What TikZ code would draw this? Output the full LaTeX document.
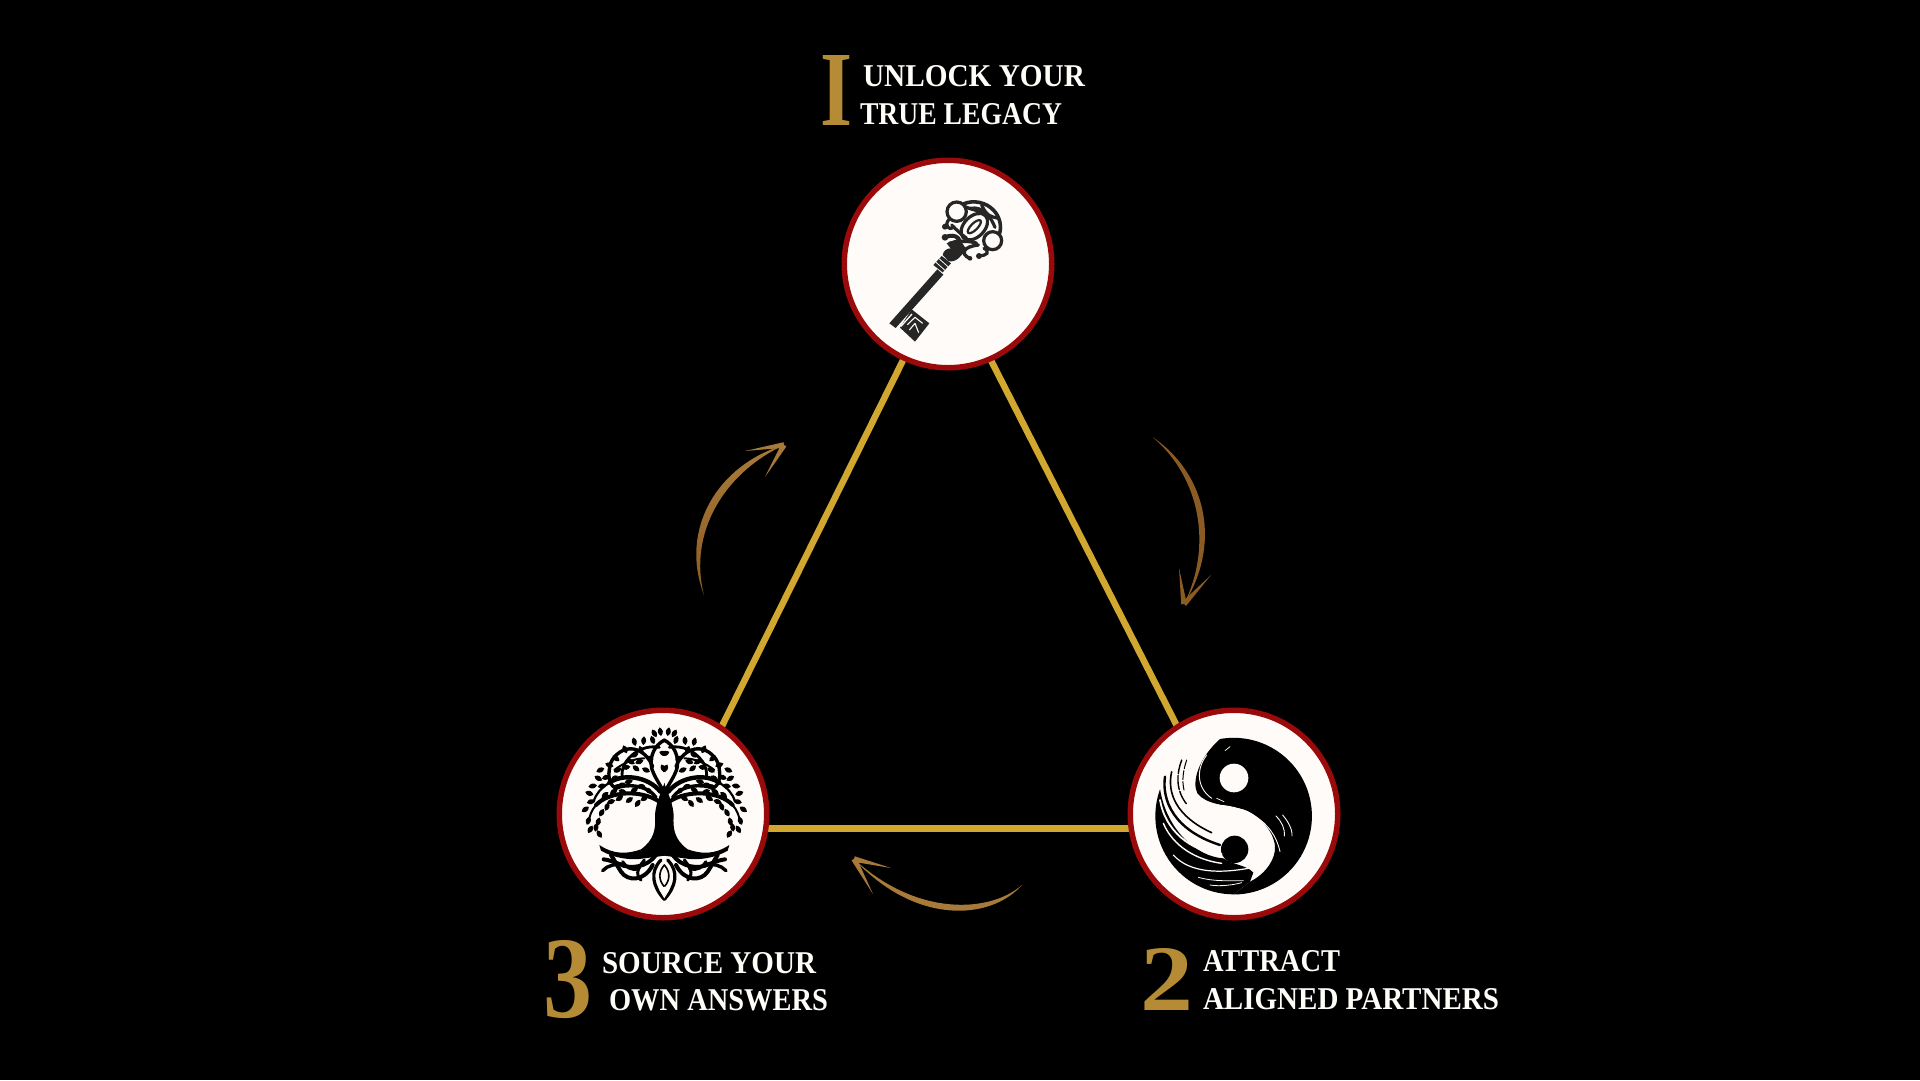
\documentclass[tikz,border=0pt]{standalone}
\usepackage{fontspec}
\usepackage{graphicx}
\usetikzlibrary{calc,backgrounds}
\newfontfamily\labelfont{Liberation Serif Bold}
\newfontfamily\numfont{Liberation Serif Bold}
\definecolor{ringred}{HTML}{9B0A0A}
\definecolor{discfill}{HTML}{FEFBF8}
\definecolor{goldline}{HTML}{D2A730}
\definecolor{numgold}{HTML}{B58B36}
\definecolor{textwhite}{HTML}{FFFDF8}
\definecolor{arrowdark}{HTML}{8A5C24}
\definecolor{arrowlight}{HTML}{CDA46E}
\definecolor{arrowmid}{HTML}{A87A3A}
\definecolor{keyink}{HTML}{262626}
\tikzset{
  disc/.style={circle,draw=ringred,fill=discfill,line width=5.5pt,minimum size=207.5pt,inner sep=0pt,outer sep=0pt},
  edgeline/.style={draw=goldline,line width=6.5pt},
  lbl/.style={inner sep=0pt,outer sep=0pt,anchor=base west,text=textwhite,font=\labelfont},
  numlbl/.style={inner sep=0pt,outer sep=0pt,anchor=base west,text=numgold,font=\numfont},
}
\newcommand{\fitlabel}[3]{\resizebox{#1pt}{#2pt}{#3}}
\newcommand{\barbfill}[3]{\fill[#3] ($(#1)!2.8pt!90:(#2)$) -- (#2) -- ($(#1)!2.8pt!-90:(#2)$) -- cycle;}
\newcommand{\leaflet}[3]{\fill[shift={(#1,#2)},rotate=#3] (-13,0) .. controls (-5,10) and (5,10) .. (13,0) .. controls (5,-10) and (-5,-10) .. (-13,0) -- cycle;}
\begin{document}
\begin{tikzpicture}[x=1pt,y=-1pt]
\useasboundingbox (0,0) rectangle (1920,1080);
\node[disc] (top) at (948,264) {};
\node[disc] (right) at (1234,814) {};
\node[disc] (left) at (663,814) {};
\begin{scope}[on background layer]
\fill[black] (0,0) rectangle (1920,1080);
\draw[edgeline] (top.245.6) -- (left.56.2);
\draw[edgeline] (top.294.4) -- (right.123.8);
\draw[edgeline] (left.-8.7) -- (right.188.7);
\end{scope}

% KEY
\begin{scope}[shift={(800,30)},x=.33333pt,y=-.33333pt]
\fill[keyink] (268,880) -- (412,718) -- (430,734) -- (287,894) -- cycle;
\fill[keyink] (400,705) -- (425,678) -- (453,700) -- (428,727) -- cycle;
\draw[discfill,line width=.8pt] (407,696) -- (435,721) (417,686) -- (445,711);
\fill[keyink] (428,675) .. controls (432,650) and (470,645) .. (480,680) .. controls (470,693) and (452,697) .. (445,693) -- cycle;
\fill[keyink] (300,893) -- (335,838) -- (388,880) -- (345,935) -- cycle;
\draw[discfill,line width=1.3pt] (303,889) -- (336,852);
\draw[discfill,line width=1.1pt] (322,884) -- (345,862) -- (368,880) (345,880) -- (356,908) (328,900) -- (345,880);
\begin{scope}[draw=keyink,line width=3.2pt,line cap=round]
\draw (470,545) circle [radius=29];
\draw (578,632) circle [radius=27];
\draw[rotate around={45:(523,590)}] (523,590) ellipse [x radius=47,y radius=31];
\draw[rotate around={45:(523,590)},line width=2.2pt] (523,590) ellipse [x radius=26,y radius=10];
\draw[line width=3.6pt] (490,522) .. controls (520,508) and (560,518) .. (580,540) .. controls (600,560) and (606,590) .. (598,612);
\draw (510,535) .. controls (550,528) and (572,560) .. (585,592);
\draw (545,525) .. controls (560,560) and (575,560) .. (595,565);
\draw (495,530) .. controls (530,545) and (540,540) .. (555,550);
\draw (447,568) .. controls (432,585) and (445,605) .. (462,590);
\draw[line width=4pt] (435,622) .. controls (465,608) and (495,625) .. (470,665);
\draw[line width=3.4pt] (448,640) .. controls (480,632) and (510,632) .. (530,640);
\draw[line width=3.4pt] (508,685) .. controls (480,670) and (490,650) .. (535,645);
\draw (538,677) .. controls (560,678) and (572,665) .. (552,655);
\draw (455,585) .. controls (470,600) and (480,610) .. (500,625);
\end{scope}
\fill[keyink] (435,590) circle [radius=9] (435,622) circle [radius=10] (537,678) circle [radius=9] (510,685) circle [radius=7];
\fill[keyink] (440,640) -- (478,625) -- (500,660) -- (475,685) -- cycle;
\end{scope}

% TREE
\begin{scope}[shift={(530,690)},x=.33333pt,y=-.33333pt]
\foreach \s in {1,-1}{
\begin{scope}[shift={(403,0)},xscale=\s]
 \fill[black] (-1,278) -- (8,300) .. controls (15,320) and (26,345) .. (28,375) .. controls (25,420) and (32,450) .. (70,478) .. controls (110,492) and (150,495) .. (195,465) -- (190,482) .. controls (150,505) and (100,512) .. (60,505) -- (-1,497) -- cycle;
 \begin{scope}[draw=black,line cap=round]
 \draw[line width=4pt] (15,335) .. controls (70,298) and (165,303) .. (205,345);
 \draw[line width=2pt] (205,345) .. controls (218,360) and (226,380) .. (228,400);
 \draw[line width=4.4pt] (12,305) .. controls (50,258) and (125,250) .. (165,278);
 \draw[line width=2.2pt] (165,278) .. controls (190,295) and (205,310) .. (212,335);
 \draw[line width=3.4pt] (25,322) .. controls (50,285) and (115,280) .. (145,295) .. controls (160,290) and (170,265) .. (165,240);
 \draw[line width=3.4pt] (-1,150) .. controls (30,165) and (45,200) .. (38,235) .. controls (30,260) and (15,280) .. (2,305);
 \draw[line width=3.4pt] (35,230) .. controls (50,190) and (85,170) .. (115,178) .. controls (140,185) and (165,210) .. (165,240);
 \draw[line width=2.8pt] (15,172) .. controls (50,165) and (90,180) .. (115,215) .. controls (125,230) and (130,250) .. (125,265);
 \draw[line width=2pt] (60,205) .. controls (90,205) and (125,220) .. (150,240);
 \draw[line width=4pt] (25,495) .. controls (50,530) and (100,540) .. (135,522) .. controls (155,515) and (165,510) .. (182,508);
 \draw[line width=3.4pt] (125,522) .. controls (145,522) and (170,525) .. (185,542);
 \draw[line width=4pt] (35,525) .. controls (60,575) and (110,575) .. (130,545) .. controls (140,530) and (150,510) .. (160,495);
 \draw[line width=3.2pt] (10,510) .. controls (45,545) and (35,590) .. (0,628);
 \draw[line width=1.6pt] (0,525) .. controls (18,545) and (18,570) .. (0,590);
 \draw[line width=3pt] (60,510) .. controls (85,540) and (85,560) .. (70,570);
 \draw[line width=3pt] (75,535) .. controls (100,545) and (115,530) .. (125,515);
 \end{scope}
 \foreach \px/\py/\a in {12/125/80,35/150/70,62/152/95,90/155/75,118/178/65,145/205/40,165/225/20,192/240/-25,198/265/30,215/288/-10,225/310/20,220/335/-15,237/358/-35,228/392/-70,222/418/-60,195/432/60,
 172/350/-70,188/368/-60,198/395/-75,205/412/-80,
 80/340/-55,105/330/-35,135/325/-30,60/325/-30,160/335/-20,
 55/240/25,85/235/40,115/232/-10,66/290/30,107/275/-15,142/290/-20,47/302/40,152/305/-30,187/288/-10,125/305/20,90/300/-30,175/262/-20,45/205/20,90/195/-20,3/190/20,3/235/60,
 70/180/70,140/240/-30,150/265/-40,30/130/60,100/215/30,75/215/-20,178/315/-40,125/285/10}{
  \leaflet{\px}{\py}{\a}
 }
\end{scope}}
\fill[discfill] (403,590) -- (418,600) -- (403,625) -- (388,600) -- cycle;
\end{scope}

% YIN-YANG
\begin{scope}[shift={(1110,690)},x=.33333pt,y=-.33333pt]
\fill[black] (330,147) arc [start angle=-100,end angle=90,radius=235] -- (420,575) .. controls (470,550) and (497,505) .. (495,470) .. controls (492,420) and (440,370) .. (400,358) .. controls (350,345) and (290,345) .. (262,310) .. controls (245,275) and (265,205) .. (330,147) -- cycle;
\fill[black] (371,613) arc [start angle=90,end angle=200,radius=235] .. controls (170,420) and (260,500) .. (340,505) .. controls (370,525) and (410,525) .. (430,548) -- (420,575) -- cycle;
\fill[discfill] (372,264) circle [radius=43];
\fill[black] (374,478) circle [radius=41];
\begin{scope}[draw=discfill,line cap=round]
\draw[line width=1.8pt] (150,330) .. controls (165,420) and (240,485) .. (335,492);
\draw[line width=1.4pt] (160,400) .. controls (190,470) and (260,510) .. (335,520);
\draw[line width=1.2pt] (190,495) .. controls (240,550) and (330,550) .. (415,535);
\draw[line width=.8pt] (265,562) .. controls (310,575) and (360,572) .. (400,572);
\draw[line width=.8pt] (300,585) .. controls (330,590) and (370,585) .. (395,578);
\draw[line width=.9pt] (498,378) .. controls (515,395) and (525,415) .. (523,438);
\draw[line width=.9pt] (518,375) .. controls (535,395) and (548,420) .. (546,438);
\draw[line width=.9pt] (310,345) .. controls (400,345) and (490,390) .. (510,485);
\draw[line width=.9pt] (290,195) .. controls (262,230) and (255,290) .. (305,325);
\draw[line width=.7pt] (320,325) -- (342,335) (360,170) -- (345,182);
\end{scope}
\begin{scope}[draw=black,line cap=round]
\draw[line width=1.4pt,dash pattern=on 14pt off 2pt] (215,210) .. controls (200,250) and (195,300) .. (232,345);
\draw[line width=1.6pt] (185,245) .. controls (170,310) and (200,380) .. (305,428);
\draw[line width=2.4pt] (165,260) .. controls (155,330) and (190,420) .. (330,465);
\draw[line width=1pt,dash pattern=on 9pt off 2pt] (230,210) .. controls (220,240) and (215,270) .. (222,300);
\end{scope}
\end{scope}

% ARROWS
\coordinate (la) at (704,595);
\coordinate (lb) at (784,445);
\coordinate (lc) at (745,451);
\coordinate (ld) at (765,477);
\shade[bottom color=arrowdark,middle color=arrowlight,top color=arrowmid] (la) .. controls (679,530) and (717,465) .. (lb) .. controls (724,473) and (688,533) .. (la) -- cycle;
\barbfill{lb}{lc}{arrowmid}
\barbfill{lb}{ld}{arrowmid}
\coordinate (ra) at (1152.5,437);
\coordinate (rb) at (1184,604);
\coordinate (rc) at (1179,568);
\coordinate (rd) at (1211,575);
\shade[top color=arrowdark,middle color=arrowlight,bottom color=arrowdark] (ra) .. controls (1208,475) and (1221,545) .. (rb) .. controls (1213,546) and (1200,477) .. (ra) -- cycle;
\barbfill{rb}{rc}{arrowdark}
\barbfill{rb}{rd}{arrowdark}
\coordinate (ba) at (1022,885);
\coordinate (bb) at (854,859);
\coordinate (bc) at (891,868);
\coordinate (bd) at (873,894);
\shade[left color=arrowmid,middle color=arrowlight,right color=arrowmid] (ba) .. controls (990,921) and (915,925) .. (bb) .. controls (917,917) and (990,913) .. (ba) -- cycle;
\barbfill{bb}{bc}{arrowmid}
\barbfill{bb}{bd}{arrowmid}

% LABELS
\node[numlbl] (n1) at (820,125) {\fitlabel{32}{70}{I}};
\node[lbl] (t1a) at (863,86) {\fitlabel{222}{21}{UNLOCK YOUR}};
\node[lbl] (t1b) at (860,124) {\fitlabel{202}{21}{TRUE LEGACY}};
\node[numlbl] (n2) at (1140,1010) {\fitlabel{53}{62}{2}};
\node[lbl] (t2a) at (1203,971) {\fitlabel{137}{21}{ATTRACT}};
\node[lbl] (t2b) at (1203,1009) {\fitlabel{296}{21}{ALIGNED PARTNERS}};
\node[numlbl] (n3) at (543,1017) {\fitlabel{49}{77}{3}};
\node[lbl] (t3a) at (602,973) {\fitlabel{214}{21}{SOURCE YOUR}};
\node[lbl] (t3b) at (609,1010) {\fitlabel{219}{21}{OWN ANSWERS}};
\end{tikzpicture}
\end{document}
